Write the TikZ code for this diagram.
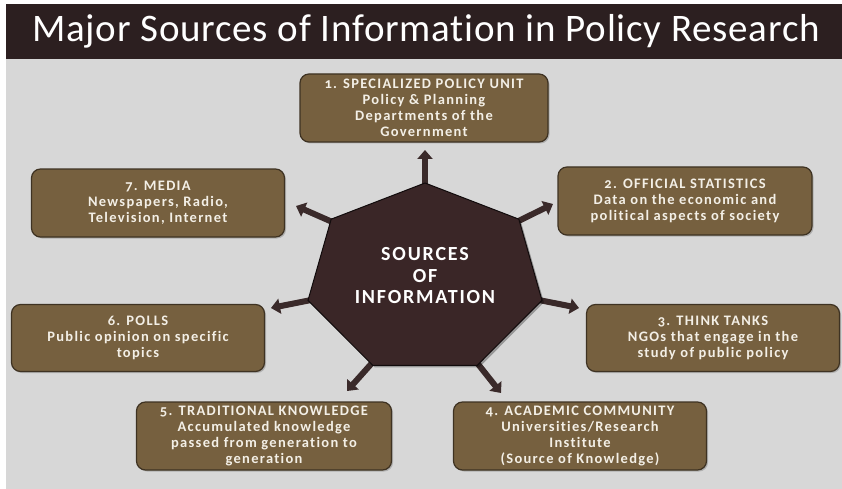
\documentclass[tikz,border=0pt]{standalone}
\usepackage{fontspec}
\setmainfont{Carlito}[Ligatures=NoCommon, Numbers=OldStyle]
\newfontfamily\boxfont{Carlito}[Ligatures=NoCommon, Numbers=OldStyle, LetterSpace=9]
\newfontfamily\corefont{Carlito}[Ligatures=NoCommon, LetterSpace=9]
\newfontfamily\titlefont{Carlito}[Ligatures=NoCommon, LetterSpace=2]
\usetikzlibrary{arrows.meta,shadows}
\definecolor{titlebar}{HTML}{2C1F20}
\definecolor{slidebg}{HTML}{D7D7D7}
\definecolor{boxfill}{HTML}{76603F}
\definecolor{boxedge}{HTML}{3E3222}
\definecolor{boxtext}{HTML}{F3EFE6}
\definecolor{hepfill}{HTML}{3A2627}
\definecolor{arrowcol}{HTML}{3A2A2A}
\tikzset{
  srcbox/.style={draw=boxedge, line width=1.2pt, fill=boxfill, rounded corners=9pt,
    text=boxtext, font=\boxfont\fontsize{14.5}{16}\selectfont\bfseries, align=center,
    inner sep=2pt, drop shadow={shadow xshift=1.5pt, shadow yshift=-1.5pt, opacity=0.45}},
  outarrow/.style={draw=arrowcol, line width=6pt, -{Triangle[width=15pt,length=9pt]}}
}
\begin{document}
\begin{tikzpicture}[x=1pt,y=-1pt]
\useasboundingbox (0,0) rectangle (842,489);
\fill[white] (0,0) rectangle (842,489);
\fill[slidebg] (6,4) rectangle (842,489);
\fill[titlebar] (6,4) rectangle (842,59);
\node[text=white, font=\titlefont\fontsize{39}{44}\selectfont] (title) at (426,31) {Major Sources of Information in Policy Research};

% boxes
\node[srcbox, minimum width=248pt, minimum height=68pt] (b1) at (424,108)
  {1. SPECIALIZED POLICY UNIT\\Policy \& Planning\\Departments of the\\Government};
\node[srcbox, minimum width=254pt, minimum height=68pt] (b2) at (685,201)
  {2. OFFICIAL STATISTICS\\Data on the economic and\\political aspects of society};
\node[srcbox, minimum width=253pt, minimum height=67pt] (b3) at (713,338)
  {3. THINK TANKS\\NGOs that engage in the\\study of public policy};
\node[srcbox, minimum width=253pt, minimum height=68pt] (b4) at (580,436)
  {4. ACADEMIC COMMUNITY\\Universities/Research\\Institute\\(Source of Knowledge)};
\node[srcbox, minimum width=255pt, minimum height=68pt] (b5) at (264,436)
  {5. TRADITIONAL KNOWLEDGE\\Accumulated knowledge\\passed from generation to\\generation};
\node[srcbox, minimum width=253pt, minimum height=67pt] (b6) at (138,338)
  {6. POLLS\\Public opinion on specific\\topics};
\node[srcbox, minimum width=253pt, minimum height=68pt] (b7) at (158,203)
  {7. MEDIA\\Newspapers, Radio,\\Television, Internet};

% heptagon vertices
\foreach \k in {0,...,6} {
  \coordinate (v\k) at ({425+120*cos(90+\k*360/7)},{279-96*sin(90+\k*360/7)});
  \coordinate (s\k) at ({425+105*cos(90+\k*360/7)},{279-84*sin(90+\k*360/7)});
}
% arrow tips
\coordinate (t0) at (425,150);
\coordinate (t1) at (296,206);
\coordinate (t2) at (271,308);
\coordinate (t3) at (347,391);
\coordinate (t4) at (501,393);
\coordinate (t5) at (579,308);
\coordinate (t6) at (553,204);
\foreach \k in {0,...,6} {
  \draw[outarrow] (s\k) -- (t\k);
}
\fill[black, opacity=0.3] ([shift={(2,2)}]v0) -- ([shift={(2,2)}]v1) -- ([shift={(2,2)}]v2) -- ([shift={(2,2)}]v3) -- ([shift={(2,2)}]v4) -- ([shift={(2,2)}]v5) -- ([shift={(2,2)}]v6) -- cycle;
\draw[fill=hepfill, draw=black!70!hepfill, line width=1pt] (v0) -- (v1) -- (v2) -- (v3) -- (v4) -- (v5) -- (v6) -- cycle;
\node[text=white, font=\corefont\fontsize{20}{21.5}\selectfont\bfseries, align=center] (core) at (425,276)
  {SOURCES\\OF\\INFORMATION};
\end{tikzpicture}
\end{document}
